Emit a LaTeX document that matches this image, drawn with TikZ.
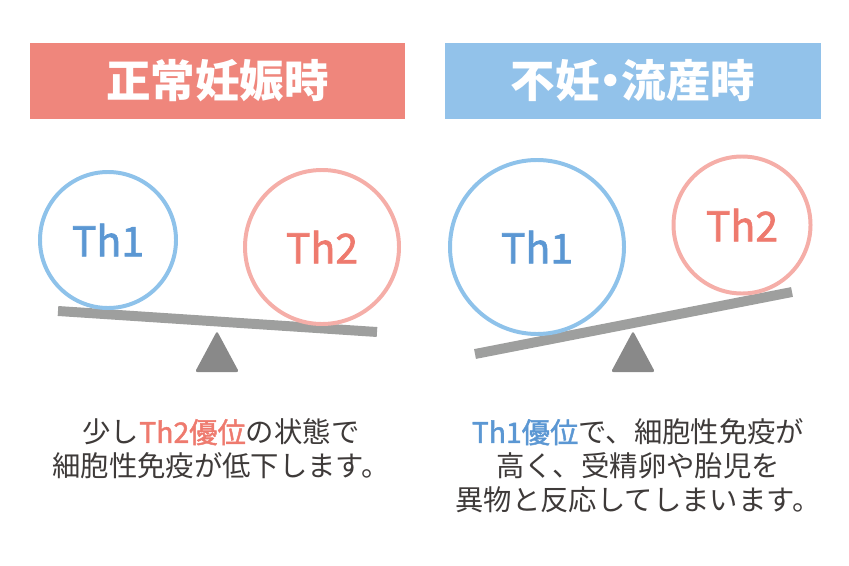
\documentclass[tikz,border=0pt]{standalone}
\usepackage{fontspec}
\setmainfont{Noto Sans CJK JP}
\newfontfamily\thfont{Noto Sans CJK JP}[FakeBold=1.6]
\newfontfamily\halffont{Noto Sans CJK JP}[RawFeature=+halt]
\usetikzlibrary{positioning,calc}
\definecolor{titleRed}{RGB}{239,134,124}
\definecolor{titleBlue}{RGB}{146,194,234}
\definecolor{ringBlue}{RGB}{142,194,234}
\definecolor{ringRed}{RGB}{245,174,168}
\definecolor{labelBlue}{RGB}{91,151,211}
\definecolor{labelRed}{RGB}{238,122,110}
\definecolor{beamGray}{RGB}{158,159,158}
\definecolor{baseGray}{RGB}{137,137,137}
\definecolor{inkDark}{RGB}{62,58,57}
\tikzset{
  title box/.style={minimum width=11.25cm,minimum height=2.28cm,inner sep=0pt,text=white,font=\fontsize{38}{40}\selectfont\bfseries},
  th1 ring/.style={circle,draw=ringBlue,line width=3.4pt,inner sep=0pt,text=labelBlue,font=\fontsize{35}{38}\selectfont\thfont},
  th2 ring/.style={circle,draw=ringRed,line width=3.4pt,inner sep=0pt,text=labelRed,font=\fontsize{35}{38}\selectfont\thfont},
  beam/.style={draw=beamGray,line width=8.5pt},
  fulcrum/.style={fill=baseGray,rounded corners=2pt},
  caption/.style={align=center,text=inkDark,font=\fontsize{24.2}{28.9}\selectfont}
}

\begin{document}
\begin{tikzpicture}[x=0.03cm,y=-0.03cm]
        \useasboundingbox (0,0) rectangle (849,566);
        \node[title box,fill=titleRed] (normal) at (217.5,81) {正常妊娠時};
        \node[title box,fill=titleBlue] (loss) at (633,81) {不妊{\halffont\bfseries ・}流産時};
        \fill[fulcrum] (217,331) -- (239,372) -- (195,372) -- cycle;
        \fill[fulcrum] (633,331) -- (655,372) -- (611,372) -- cycle;
        \coordinate (beamLa) at (58,311);
        \coordinate (beamLb) at (377,332);
        \coordinate (beamRa) at (475,354);
        \coordinate (beamRb) at (792,292);
        \draw[beam] (beamLa) -- (beamLb);
        \draw[beam] (beamRa) -- (beamRb);
        \node[th1 ring,minimum size=4.08cm] (thOneL) at (108,240) {Th1};
        \node[th2 ring,minimum size=4.62cm] (thTwoL) at (322,247) {Th2};
        \node[th1 ring,minimum size=5.22cm] (thOneR) at (537,247) {Th1};
        \node[th2 ring,minimum size=4.11cm] (thTwoR) at (742,225) {Th2};
        \node[caption] (textL) at (221,449) {少し\textcolor{labelRed}{\thfont Th2優位}の状態で\\細胞性免疫が低下します。};
        \node[caption] (textR) at (638,466) {\textcolor{labelBlue}{\thfont Th1優位}で、細胞性免疫が\\高く、受精卵や胎児を\\異物と反応してしまいます。};
      \end{tikzpicture}
\end{document}
